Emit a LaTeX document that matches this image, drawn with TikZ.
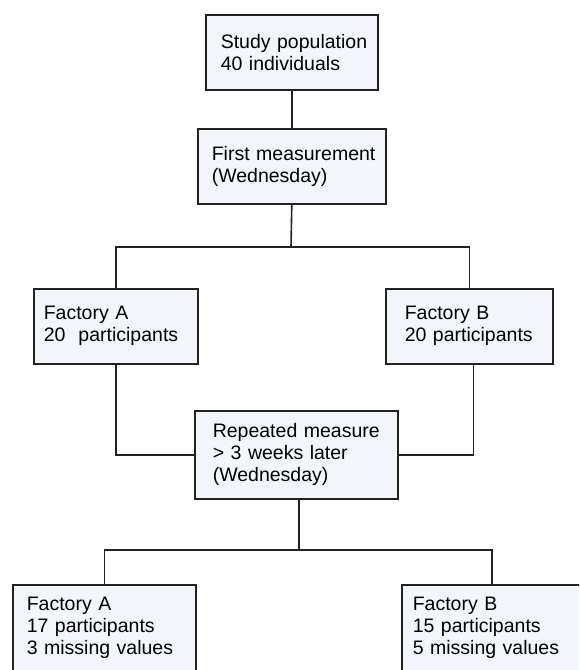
\documentclass[tikz,border=0pt]{standalone}
\usepackage{fontspec}
\setmainfont{Liberation Sans}
\definecolor{boxfill}{HTML}{F2F5FA}
\definecolor{edge}{HTML}{222222}
\hyphenpenalty=10000
\exhyphenpenalty=10000
\begin{document}
\begin{tikzpicture}[x=1pt, y=-1pt,
    box/.style={rectangle, draw=edge, line width=1.6pt, fill=boxfill, anchor=north west,
        align=left, inner ysep=0pt, font=\fontsize{19.5}{22}\selectfont},
    link/.style={draw=edge, line width=1.6pt}]
        \clip (0,0) rectangle (579,670);
        \fill[white] (0,0) rectangle (579,670);

        % Nodes
        \node (study) [box, text width=142pt, inner xsep=15pt, minimum height=75pt] at (205,14) {Study~population\\40~individuals};
        \node (first) [box, text width=160pt, inner xsep=14pt, minimum height=75pt] at (197,128) {First~measurement\\(Wednesday)};
        \node (facA) [box, text width=144pt, inner xsep=10pt, minimum height=75pt] at (33,288) {Factory~A\\20~~participants};
        \node (facB) [box, text width=129pt, inner xsep=19pt, minimum height=75pt] at (385,288) {Factory~B\\20~participants};
        \node (repeated) [box, text width=167pt, inner xsep=18pt, minimum height=88pt] at (194,410) {Repeated~measure\\> 3~weeks~later\\(Wednesday)};
        \node (endA) [box, text width=155pt, inner xsep=14pt, minimum height=87pt] at (12,584) {Factory~A\\17~participants\\3~missing~values};
        \node (endB) [box, text width=158pt, inner xsep=11pt, minimum height=87pt] at (401,584) {Factory~B\\15~participants\\5~missing~values};

        \coordinate (split1) at (291,247);
        \coordinate (split2) at (299,550);

        % Lines
        \draw[link] (study) -- (first);
        \draw[link] (first.south) -- (split1);
        \draw[link] (facA.north) |- (split1) -| (facB.north);
        \draw[link] (facA.south) |- (repeated.west);
        \draw[link] ([xshift=4pt]facB.south) |- (repeated.east);
        \draw[link] (repeated.south -| split2) -- (split2);
        \draw[link] (endA.north) |- (split2) -| (endB.north);
    \end{tikzpicture}
\end{document}
